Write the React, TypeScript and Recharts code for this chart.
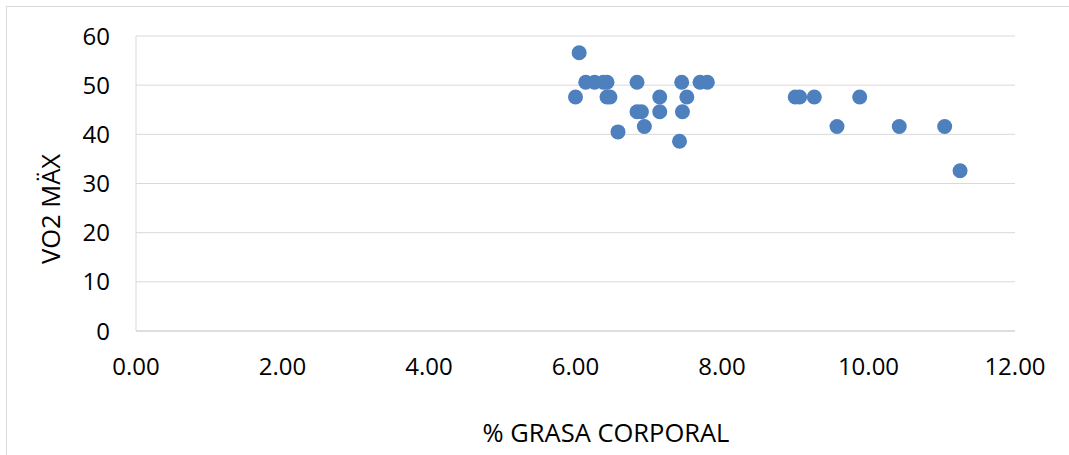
import React from "react";
import {
  ScatterChart,
  Scatter,
  XAxis,
  YAxis,
  CartesianGrid,
} from "recharts";

// % grasa corporal / VO2 máx
const grasa = [
  6.05, 6.14, 6.26, 6.38, 6.43, 6.84, 7.45, 7.7, 7.8,
  6.0, 6.43, 6.47, 7.15, 7.52, 9.0, 9.06, 9.26, 9.88,
  6.84, 6.9, 7.15, 7.46,
  6.94, 9.57, 10.42, 11.04,
  6.58, 7.42, 11.25,
];
const vo2 = [
  56.6, 50.6, 50.6, 50.6, 50.6, 50.6, 50.6, 50.6, 50.6,
  47.6, 47.6, 47.6, 47.6, 47.6, 47.6, 47.6, 47.6, 47.6,
  44.6, 44.6, 44.6, 44.6,
  41.6, 41.6, 41.6, 41.6,
  40.5, 38.6, 32.6,
];

const xTicks = [0, 2, 4, 6, 8, 10, 12];
const yTicks = [0, 10, 20, 30, 40, 50, 60];

const xTitle = "% GRASA CORPORAL";
const yTitle = "VO2 MÄX";

const data = grasa.map((g, i) => ({ grasa: g, vo2: vo2[i] }));

const font = "'Open Sans', sans-serif";
const tickStyle = { fontSize: 24, fill: "#000", fontFamily: font };

const Dot = (props: any) => (
  <circle cx={props.cx} cy={props.cy} r={7.5} fill="#4e80bd" />
);

export default function App() {
  return (
    <div
      style={{
        position: "absolute",
        left: 0,
        top: 0,
        width: 1069,
        height: 455,
        overflow: "hidden",
        background: "#fff",
      }}
    >
      <div
        style={{
          position: "absolute",
          left: 6,
          top: 6,
          width: 1100,
          height: 500,
          border: "1px solid #d9d9d9",
        }}
      />
      <div style={{ position: "absolute", left: 0, top: 0 }}>
        <ScatterChart
          width={1069}
          height={455}
          margin={{ top: 36, right: 54, bottom: 64, left: 0 }}
        >
          <CartesianGrid vertical={false} stroke="#d9d9d9" />
          <XAxis
            type="number"
            dataKey="grasa"
            domain={[0, 12]}
            ticks={xTicks}
            tickFormatter={(v: number) => v.toFixed(2)}
            tickLine={false}
            tickSize={0}
            tickMargin={27}
            height={60}
            axisLine={{ stroke: "#cfcfcf" }}
            tick={tickStyle}
            interval={0}
          />
          <YAxis
            type="number"
            dataKey="vo2"
            domain={[0, 60]}
            ticks={yTicks}
            tickLine={false}
            tickSize={0}
            tickMargin={26}
            width={136}
            axisLine={{ stroke: "#d9d9d9" }}
            tick={tickStyle}
            interval={0}
          />
          <Scatter data={data} shape={Dot} isAnimationActive={false} />
        </ScatterChart>
      </div>
      <svg
        width={1069}
        height={455}
        style={{ position: "absolute", left: 0, top: 0, pointerEvents: "none" }}
      >
        <text
          x={606}
          y={442}
          textAnchor="middle"
          fontSize={25.5}
          fontFamily={font}
          fill="#000"
        >
          {xTitle}
        </text>
        <text
          x={60}
          y={209}
          textAnchor="middle"
          fontSize={25.5}
          fontFamily={font}
          fill="#000"
          transform="rotate(-90, 60, 209)"
        >
          {yTitle}
        </text>
      </svg>
    </div>
  );
}
